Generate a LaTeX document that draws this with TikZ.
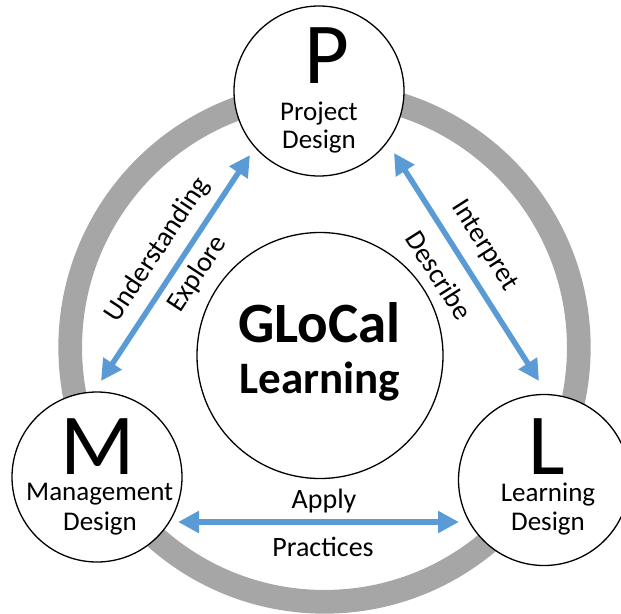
\documentclass[tikz,border=0pt]{standalone}
\usepackage{fontspec}
\setmainfont{Carlito}
\usetikzlibrary{arrows.meta}
\definecolor{ringgrey}{HTML}{A6A6A6}
\definecolor{arrowblue}{HTML}{5B9BD5}
\begin{document}
\begin{tikzpicture}[x=1pt,y=-1pt,
  disc/.style={circle,draw=black,line width=1.3pt,fill=white,minimum size=#1,inner sep=0pt},
  bigletter/.style={font=\fontsize{87}{87}\selectfont,anchor=base,inner sep=0pt},
  subtext/.style={font=\fontsize{27}{29}\selectfont,anchor=base,inner sep=0pt},
  arrlabel/.style={font=\fontsize{28}{30}\selectfont,inner sep=0pt},
  biarrow/.style={draw=arrowblue,line width=5.5pt,{Triangle[length=21pt,width=21pt]}-{Triangle[length=21pt,width=21pt]}}
]
\useasboundingbox (0,0) rectangle (621,613);
% grey ring
\coordinate (ringc) at (324.5,347.5);
\draw[ringgrey,line width=23.7pt] (ringc) circle[radius=254.3pt];
% circles
\node[disc=170pt] (P) at (319,91) {};
\node[disc=170pt] (M) at (97,477) {};
\node[disc=171pt] (L) at (544,480) {};
\node[disc=246pt] (C) at (320,355.5) {};
% arrow end points
\coordinate (aLm) at (101,381);
\coordinate (aLp) at (250,155);
\coordinate (aRp) at (394,153);
\coordinate (aRl) at (539,381);
\coordinate (aBm) at (178,522);
\coordinate (aBl) at (459,522);
\draw[biarrow] (aLm) -- (aLp);
\draw[biarrow] (aRp) -- (aRl);
\draw[biarrow] (aBm) -- (aBl);
% texts in circles
\node[bigletter] (tP) at (326.5,83.5) {P};
\node[subtext] (tP1) at (319,120) {Project};
\node[subtext] (tP2) at (319,148.5) {Design};
\node[bigletter] (tM) at (97.5,474.3) {M};
\node[subtext] (tM1) at (99.7,500) {Management};
\node[subtext] (tM2) at (100,530) {Design};
\node[bigletter] (tL) at (547,474.3) {L};
\node[subtext] (tL1) at (548,501.7) {Learning};
\node[subtext] (tL2) at (548,530) {Design};
\node[font=\bfseries\fontsize{57}{57}\selectfont,anchor=base,inner sep=0pt] (tC1) at (319.5,342.6) {GLoCal};
\node[font=\bfseries\fontsize{45}{45}\selectfont,anchor=base,inner sep=0pt] (tC2) at (320,393) {Learning};
% arrow labels
\node[arrlabel,anchor=base] (lApply) at (324,508.3) {Apply};
\node[arrlabel,anchor=base] (lPractices) at (323,556.7) {Practices};
\node[arrlabel,rotate=56.6] (lUnd) at (157.5,250) {Understanding};
\node[arrlabel,rotate=56.6] (lExp) at (197.5,274) {Explore};
\node[arrlabel,rotate=-57.5] (lInt) at (484.2,245.8) {Interpret};
\node[arrlabel,rotate=-57.5] (lDes) at (439.2,275) {Describe};
\end{tikzpicture}
\end{document}
